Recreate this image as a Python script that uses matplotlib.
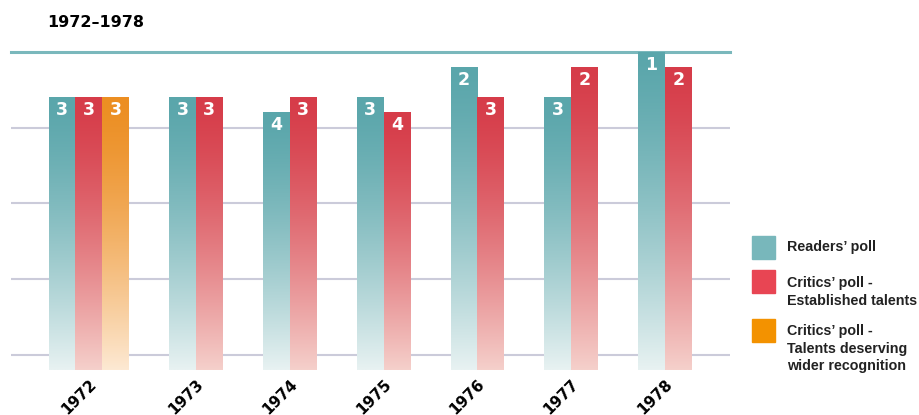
import numpy as np
import matplotlib
matplotlib.use('Agg')
import matplotlib.pyplot as plt
from matplotlib.colors import to_rgb
from matplotlib.patches import Rectangle

# Jazz poll ranks per year
years = ['1972', '1973', '1974', '1975', '1976', '1977', '1978']
readers_rank = [3, 3, 4, 3, 2, 3, 1]
established_rank = [3, 3, 3, 4, 3, 2, 2]
deserving_rank = [3, None, None, None, None, None, None]

series_names = ['Readers\u2019 poll', 'Critics\u2019 poll -\nEstablished talents',
                'Critics\u2019 poll -\nTalents deserving\nwider recognition']

# rank -> bar height on the chart scale
rank_height = {1: 4.2, 2: 4.0, 3: 3.6, 4: 3.4}

top_colors = ['#5aa6ab', '#d63c49', '#ec8e22']
bottom_colors = ['#e8f2f2', '#f5d0cb', '#fde9d3']
legend_colors = ['#78b7bb', '#e84553', '#f39200']

W, H = 919, 415
fig = plt.figure(figsize=(W / 100, H / 100), dpi=100)
ax = fig.add_axes([11 / W, 45 / H, 719 / W, 318 / H])

bar_w = 1.0
band = 3.5
first_right = 4.4


def gradient_bar(x0, h, c_top, c_bot):
    n = 256
    t = np.linspace(0, 1, n) ** 1.4
    top = np.array(to_rgb(c_top))
    bot = np.array(to_rgb(c_bot))
    cols = top[None, :] * (1 - t[:, None]) + bot[None, :] * t[:, None]
    img = cols[:, None, :]
    ax.imshow(img, extent=(x0, x0 + bar_w, 0, h), origin='upper',
              aspect='auto', interpolation='bilinear', zorder=2)


# grid and top rule
for gy in [0.2, 1.2, 2.2, 3.2]:
    ax.axhline(gy, color='#cbcbda', lw=1.5, zorder=0)
ax.axhline(4.2, color='#7ab8bc', lw=2.2, zorder=1, clip_on=False)

centers = []
for i, yr in enumerate(years):
    ranks = [r[i] for r in (readers_rank, established_rank, deserving_rank)]
    ranks = [(k, r) for k, r in enumerate(ranks) if r is not None]
    right = first_right + band * i
    n = len(ranks)
    centers.append(right - n * bar_w / 2)
    for j, (k, r) in enumerate(ranks):
        x0 = right - (n - j) * bar_w
        h = rank_height[r]
        gradient_bar(x0, h, top_colors[k], bottom_colors[k])
        ax.text(x0 + bar_w / 2, h - 0.17, str(r), color='white',
                fontsize=12.5, fontweight='bold', ha='center', va='center', zorder=3)

ax.set_xlim(0, 719 / 26.8)
ax.set_ylim(0, 4.2)
ax.set_xticks(centers)
ax.set_xticklabels(years, rotation=45, ha='right', va='top',
                   rotation_mode='anchor', fontsize=11, fontweight='bold')
ax.tick_params(axis='x', length=0, pad=5)
ax.set_yticks([])
for s in ax.spines.values():
    s.set_visible(False)

fig.text(47 / W, 1 - 27 / H, '1972\u20131978', fontsize=11.5, fontweight='bold',
         ha='left', va='baseline')

# legend: square plus one text per line
sq_tops = [236, 270, 319]
baselines = [251, 287, 335]
line_h = 17.7
for k in range(3):
    fig.add_artist(Rectangle((752 / W, 1 - (sq_tops[k] + 23) / H), 23 / W, 23 / H,
                             transform=fig.transFigure, color=legend_colors[k]))
    for j, line in enumerate(series_names[k].split('\n')):
        fig.text(787 / W, 1 - (baselines[k] + j * line_h) / H, line, fontsize=10.3,
                 family='Liberation Sans', fontweight='bold',
                 color='#222222', ha='left', va='baseline')

fig.savefig('out.png', dpi=100)
